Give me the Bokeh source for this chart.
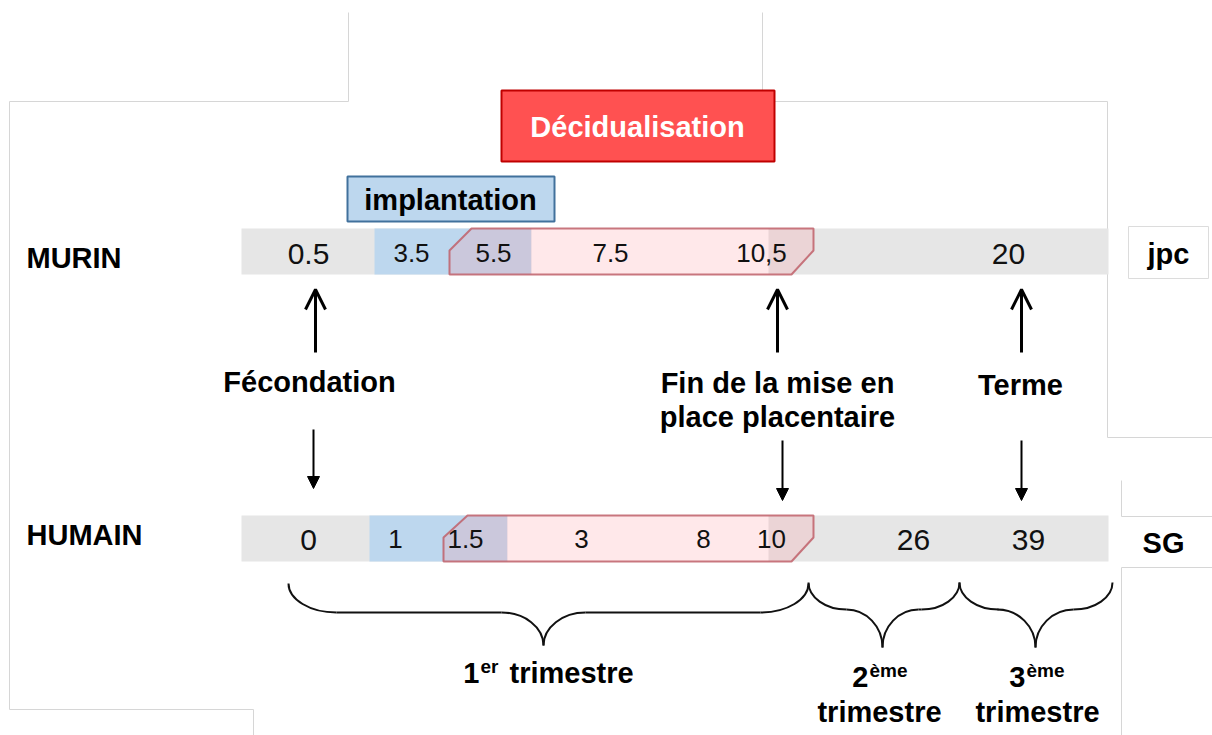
from bokeh.plotting import figure
from bokeh.models import Range1d, Arrow, OpenHead, NormalHead
from bokeh.embed import file_html
from bokeh.resources import INLINE
from bokeh.core.properties import value

# ---------------- data (texts / values) ----------------
species = ["MURIN", "HUMAIN"]
units = ["jpc", "SG"]
murin_days = ["0.5", "3.5", "5.5", "7.5", "10,5", "20"]
human_weeks = ["0", "1", "1.5", "3", "8", "10", "26", "39"]
phases = ["implantation", "Décidualisation"]
event_lines = [["Fécondation"], ["Fin de la mise en", "place placentaire"], ["Terme"]]
trimester_num = ["1", "2", "3"]
trimester_sup = ["er", "ème", "ème"]
trimester_word = ["trimestre", "trimestre", "trimestre"]

# ---------------- layout (pixel positions) ----------------
FONT = value("Liberation Sans")
W, H = 1212, 735
BAR_L, BAR_R = 241, 1108
rows = [dict(top=228, bot=274, blue=(374, 531), white=(531, 768), cut=(449, 471, 250), mid=252),
        dict(top=515, bot=561, blue=(369, 507), white=(507, 768), cut=(443, 467, 537), mid=538)]
label_x = [26, 26]
label_y = [257, 534]
unit_x = [1168, 1163]
unit_y = [253, 542]
murin_x = [308, 411, 493, 610, 761, 1008]
murin_big = [True, False, False, False, False, True]
human_x = [308, 395, 465, 581, 703, 771, 913, 1028]
human_big = [True, False, False, False, False, False, True, True]

p = figure(width=W, height=H, x_range=Range1d(0, W), y_range=Range1d(H, 0),
           output_backend="svg", toolbar_location=None, x_axis_type=None, y_axis_type=None,
           min_border=0, outline_line_color=None, background_fill_color="white")

# faint frame lines from the source image
faint = [((348, 12), (348, 101)), ((9, 101), (348, 101)), ((9, 101), (9, 709)),
         ((9, 709), (253, 709)), ((253, 709), (253, 735)),
         ((762, 12), (762, 101)), ((762, 101), (1107, 101)), ((1107, 101), (1107, 437)),
         ((1107, 437), (1212, 437)), ((1121, 480), (1121, 516)), ((1121, 516), (1212, 516)),
         ((1121, 567), (1212, 567)), ((1121, 567), (1121, 735))]
p.segment(x0=[a[0][0] for a in faint], y0=[a[0][1] for a in faint],
          x1=[a[1][0] for a in faint], y1=[a[1][1] for a in faint],
          line_color="#d6d6d6", line_width=1)
p.quad(left=[1128], right=[1208], top=[226], bottom=[278], fill_color="white",
       line_color="#dcdcdc", line_width=1)

# phase boxes
p.quad(left=[501], right=[774], top=[90], bottom=[161], fill_color="#ff5151",
       line_color="#c00000", line_width=2)
p.quad(left=[347], right=[554], top=[176], bottom=[221], fill_color="#bdd7ee",
       line_color="#41719c", line_width=2)
p.text(x=[637], y=[126], text=[phases[1]], text_font=FONT, text_font_style="bold",
       text_font_size="29px", text_color="white", text_align="center", text_baseline="middle")
p.text(x=[450], y=[199], text=[phases[0]], text_font=FONT, text_font_style="bold",
       text_font_size="29px", text_color="black", text_align="center", text_baseline="middle")

# timeline bars
for r in rows:
    p.quad(left=[BAR_L], right=[BAR_R], top=[r["top"]], bottom=[r["bot"]],
           fill_color="#e6e6e6", line_color=None)
    p.quad(left=[r["blue"][0]], right=[r["blue"][1]], top=[r["top"]], bottom=[r["bot"]],
           fill_color="#bdd7ee", line_color=None)
    p.quad(left=[r["white"][0]], right=[r["white"][1]], top=[r["top"]], bottom=[r["bot"]],
           fill_color="white", line_color=None)
    x0, x1, ymid = r["cut"]
    xs = [x0, x0, x1, 813, 813, 791]
    ys = [r["bot"], ymid, r["top"], r["top"], ymid, r["bot"]]
    p.patch(xs, ys, fill_color="#ff96a0", fill_alpha=0.22, line_color="#c0606a",
            line_alpha=0.85, line_width=2)

# values in the bars
def draw_vals(xs, labels, big, ymid):
    bx = [x for x, b in zip(xs, big) if b]
    bl = [l for l, b in zip(labels, big) if b]
    sx = [x for x, b in zip(xs, big) if not b]
    sl = [l for l, b in zip(labels, big) if not b]
    p.text(x=bx, y=[ymid + 1] * len(bx), text=bl, text_font=FONT, text_font_size="30px",
           text_color="#111111", text_align="center", text_baseline="middle")
    p.text(x=sx, y=[ymid] * len(sx), text=sl, text_font=FONT, text_font_size="26px",
           text_color="#111111", text_align="center", text_baseline="middle")

draw_vals(murin_x, murin_days, murin_big, rows[0]["mid"])
draw_vals(human_x, human_weeks, human_big, rows[1]["mid"])

# row labels and units
p.text(x=label_x, y=label_y, text=species, text_font=FONT, text_font_style="bold",
       text_font_size="29px", text_color="black", text_align="left", text_baseline="middle")
p.text(x=unit_x, y=unit_y, text=units, text_font=FONT, text_font_style="bold",
       text_font_size="29px", text_color="black", text_align="center", text_baseline="middle")

# events
ev_x = [309, 777, 1020]
ev_y = [[381], [382, 416], [384]]
for x, lines, ys in zip(ev_x, event_lines, ev_y):
    p.text(x=[x] * len(lines), y=ys, text=lines, text_font=FONT, text_font_style="bold",
           text_font_size="29px", text_color="black", text_align="center",
           text_baseline="middle")

up_x = [315, 777, 1021]
down_x = [313, 782, 1021]
down_y = [(429, 488), (440, 500), (440, 500)]
for x in up_x:
    p.add_layout(Arrow(end=OpenHead(size=20, line_width=3, line_color="black"),
                       x_start=x, y_start=352, x_end=x, y_end=289,
                       line_width=3, line_color="black"))
for x, (ys, ye) in zip(down_x, down_y):
    p.add_layout(Arrow(end=NormalHead(size=12, fill_color="black", line_color="black"),
                       x_start=x, y_start=ys, x_end=x, y_end=ye,
                       line_width=2, line_color="black"))

# braces for trimesters
braces = [dict(x0=288, xm=543, x1=808, ye=583, ym=612, yt=645, re=48, rt=42),
          dict(x0=808, xm=882, x1=959, ye=582, ym=609, yt=647, re=38, rt=36),
          dict(x0=959, xm=1035, x1=1112, ye=582, ym=609, yt=647, re=39, rt=38)]
bz = dict(x0=[], y0=[], x1=[], y1=[], cx0=[], cy0=[], cx1=[], cy1=[])
def add_bz(P0, C0, C1, P1):
    for k, v in zip(["x0", "y0", "cx0", "cy0", "cx1", "cy1", "x1", "y1"],
                    [P0[0], P0[1], C0[0], C0[1], C1[0], C1[1], P1[0], P1[1]]):
        bz[k].append(v)
segs = []
k = 0.55
for b in braces:
    x0, xm, x1, ye, ym, yt, re, rt = (b[n] for n in ["x0", "xm", "x1", "ye", "ym", "yt", "re", "rt"])
    add_bz((x0, ye), (x0, ye + k * (ym - ye)), (x0 + re - k * re, ym), (x0 + re, ym))
    add_bz((xm - rt, ym), (xm - rt + k * rt, ym), (xm, yt - k * (yt - ym)), (xm, yt))
    if xm - rt > x0 + re + 0.5:
        segs.append((x0 + re, xm - rt, ym))
    add_bz((x1, ye), (x1, ye + k * (ym - ye)), (x1 - re + k * re, ym), (x1 - re, ym))
    add_bz((xm + rt, ym), (xm + rt - k * rt, ym), (xm, yt - k * (yt - ym)), (xm, yt))
    if x1 - re > xm + rt + 0.5:
        segs.append((xm + rt, x1 - re, ym))
p.bezier(line_color="#111111", line_width=2, **bz)
p.segment(x0=[s[0] for s in segs], x1=[s[1] for s in segs], y0=[s[2] for s in segs],
          y1=[s[2] for s in segs], line_color="#111111", line_width=2)

# trimester labels
num_right = [479, 868, 1025]
num_y = [672, 676, 676]
sup_y = [666, 670, 670]
word_x = [509, 879, 1037]
word_y = [672, 711, 711]
word_align = ["left", "center", "center"]
p.text(x=num_right, y=num_y, text=trimester_num, text_font=FONT, text_font_style="bold",
       text_font_size="29px", text_color="black", text_align="right", text_baseline="middle")
p.text(x=[n + 1 for n in num_right], y=sup_y, text=trimester_sup, text_font=FONT,
       text_font_style="bold", text_font_size="19px", text_color="black", text_align="left",
       text_baseline="middle")
for x, yy, w, a in zip(word_x, word_y, trimester_word, word_align):
    p.text(x=[x], y=[yy], text=[w], text_font=FONT, text_font_style="bold",
           text_font_size="29px", text_color="black", text_align=a, text_baseline="middle")

open("out.html", "w").write(file_html(p, INLINE))
